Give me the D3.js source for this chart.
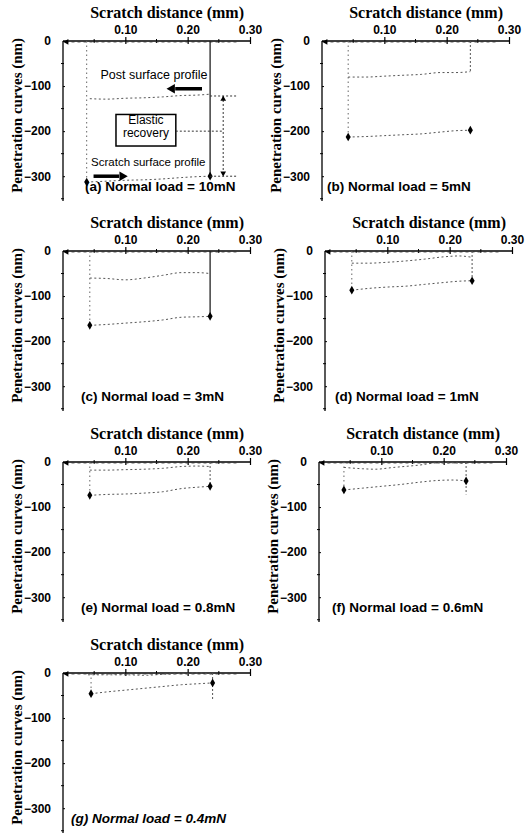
<!DOCTYPE html>
<html>
<head>
<meta charset="utf-8">
<script src="https://cdn.jsdelivr.net/npm/d3@7"></script>
<style>
  body { margin: 0; background: #fff; }
  svg { display: block; }
</style>
</head>
<body>
<div id="chart_area"></div>
<script>
// panel captions
var panelLetters = ["a", "b", "c", "d", "e", "f", "g"];
var normalLoads = ["10mN", "5mN", "3mN", "1mN", "0.8mN", "0.6mN", "0.4mN"];

// tick values
var xTicks = [0.10, 0.20, 0.30];
var xMinorTicks = [0.05, 0.15, 0.25];
var yTicks = [0, -100, -200, -300];
var yMinorTicks = [-50, -150, -250, -350];

// post surface profile (distance mm, depth nm) per panel
var postProfiles = [
    [[0.043, -128], [0.07, -129], [0.10, -127], [0.13, -126], [0.16, -124], [0.19, -121], [0.215, -120], [0.236, -118]],
    [[0.042, -80], [0.07, -80], [0.10, -78], [0.13, -76], [0.16, -74], [0.19, -70], [0.215, -70], [0.238, -68]],
    [[0.043, -60], [0.07, -61], [0.10, -64], [0.13, -60], [0.16, -54], [0.19, -48], [0.215, -48], [0.236, -50]],
    [[0.043, -27], [0.07, -27], [0.10, -25], [0.13, -22], [0.16, -18], [0.19, -13], [0.215, -11], [0.236, -14]],
    [[0.043, -18], [0.07, -18], [0.10, -17], [0.13, -16], [0.16, -14], [0.19, -10], [0.215, -9], [0.236, -10]],
    [[0.040, -12], [0.07, -15], [0.09, -16], [0.12, -12], [0.16, -7], [0.19, -2], [0.215, -2], [0.236, -3]],
    [[0.040, -4], [0.07, -4], [0.10, -4], [0.13, -5], [0.16, -3], [0.19, -1], [0.215, 0], [0.24, -2]]
];

// scratch surface profile per panel
var scratchProfiles = [
    [[0.038, -313], [0.07, -311], [0.10, -309], [0.13, -308], [0.16, -306], [0.19, -303], [0.215, -301], [0.236, -300]],
    [[0.042, -213], [0.07, -212], [0.10, -210], [0.13, -208], [0.16, -206], [0.19, -202], [0.215, -199], [0.238, -198]],
    [[0.043, -165], [0.07, -163], [0.10, -160], [0.13, -157], [0.16, -153], [0.19, -147], [0.215, -146], [0.236, -145]],
    [[0.043, -87], [0.07, -83], [0.10, -80], [0.13, -78], [0.16, -74], [0.19, -70], [0.215, -67], [0.236, -66]],
    [[0.043, -74], [0.07, -72], [0.10, -71], [0.13, -69], [0.16, -66], [0.19, -59], [0.215, -56], [0.236, -54]],
    [[0.040, -62], [0.07, -58], [0.10, -54], [0.13, -50], [0.16, -45], [0.19, -41], [0.215, -40], [0.236, -42]],
    [[0.045, -46], [0.07, -42], [0.10, -38], [0.13, -34], [0.16, -30], [0.19, -26], [0.215, -24], [0.24, -22]]
];

// depth reached by the unloading line at the end of the scratch
var endDrops = [-300, -68, -145, -66, -56, -72, -60];

var width = 532, height = 838;
var colX = [63, 322];
var rowY = [41, 251, 462, 673];
var captionDx = [22, 5, 18, 10, 18, 13, 8];

var x = d3.scaleLinear().domain([0, 0.30]).range([0, 187]);
var y = d3.scaleLinear().domain([0, -355]).range([0, 160]);

var svg = d3.select("#chart_area")
    .append("svg")
    .attr("width", width)
    .attr("height", height);

svg.append("rect")
    .attr("width", width)
    .attr("height", height)
    .attr("fill", "#fff");

var line = d3.line()
    .x(function (d) { return x(d[0]); })
    .y(function (d) { return y(d[1]); })
    .curve(d3.curveMonotoneX);

panelLetters.forEach(function (letter, i) {
    var ox = colX[i % 2] + (i === 3 ? 3 : 0) - (i === 5 ? 3 : 0);
    var oy = rowY[Math.floor(i / 2)];
    var g = svg.append("g").attr("transform", "translate(" + ox + "," + oy + ")");

    // x axis on top
    var xAxis = g.append("g")
        .call(d3.axisTop(x).tickValues(xTicks).tickSize(4).tickPadding(3)
            .tickFormat(d3.format(".2f")));
    xAxis.select(".domain").attr("stroke-width", 1.3).attr("d", "M0,0H" + x(0.30));
    xAxis.selectAll(".tick line").attr("y2", -4).attr("y1", 3).attr("stroke-width", 1.2);
    xAxis.selectAll("text")
        .attr("font-family", "Liberation Sans, Arial, sans-serif")
        .attr("font-weight", "bold")
        .attr("font-size", 12)
        .attr("fill", "#000");

    g.selectAll(".xminor")
        .data(xMinorTicks)
        .enter()
        .append("line")
        .attr("x1", function (d) { return x(d); })
        .attr("x2", function (d) { return x(d); })
        .attr("y1", -2)
        .attr("y2", 2)
        .attr("stroke", "#000");

    // y axis
    var yAxis = g.append("g")
        .call(d3.axisLeft(y).tickValues(yTicks).tickSize(3).tickPadding(9)
            .tickFormat(d3.format("d")));
    yAxis.select(".domain").attr("stroke-width", 1.3).attr("d", "M0,0V" + y(-355));
    yAxis.selectAll(".tick line").attr("x2", 2);
    yAxis.selectAll("text")
        .attr("font-family", "Liberation Sans, Arial, sans-serif")
        .attr("font-weight", "bold")
        .attr("font-size", 12)
        .attr("fill", "#000");

    g.selectAll(".yminor")
        .data(yMinorTicks)
        .enter()
        .append("line")
        .attr("x1", -2)
        .attr("x2", 1)
        .attr("y1", function (d) { return y(d); })
        .attr("y2", function (d) { return y(d); })
        .attr("stroke", "#000");

    // axis titles
    g.append("text")
        .attr("x", x(0.167))
        .attr("y", -23)
        .attr("text-anchor", "middle")
        .attr("font-family", "Liberation Serif, Times New Roman, serif")
        .attr("font-weight", "bold")
        .attr("font-size", 16)
        .text("Scratch distance (mm)");

    g.append("text")
        .attr("transform", "translate(-41," + y(-165) + ") rotate(-90)")
        .attr("text-anchor", "middle")
        .attr("font-family", "Liberation Serif, Times New Roman, serif")
        .attr("font-weight", "bold")
        .attr("font-size", 15)
        .text("Penetration curves (nm)");

    // panel caption
    g.append("text")
        .attr("x", captionDx[i])
        .attr("y", y(-333))
        .attr("font-family", "Liberation Sans, Arial, sans-serif")
        .attr("font-weight", "bold")
        .attr("font-style", letter === "g" ? "italic" : "normal")
        .attr("font-size", 13.5)
        .text("(" + letter + ") Normal load = " + normalLoads[i]);

    var post = postProfiles[i];
    var scr = scratchProfiles[i];
    var startX = scr[0][0];
    var endX = scr[scr.length - 1][0];

    // pre-scan along the surface
    g.append("line")
        .attr("x1", x(0.004)).attr("x2", x(0.28))
        .attr("y1", y(-2)).attr("y2", y(-2))
        .attr("stroke", "#333")
        .attr("stroke-dasharray", "3,3");
    g.append("path")
        .attr("d", d3.symbol().type(d3.symbolTriangle).size(14))
        .attr("transform", "translate(" + x(0.006) + "," + y(-2) + ") rotate(-90)")
        .attr("fill", "#000");

    // loading / unloading verticals
    g.append("line")
        .attr("x1", x(startX)).attr("x2", x(startX))
        .attr("y1", y(0)).attr("y2", y(scr[0][1]))
        .attr("stroke", "#666")
        .attr("stroke-dasharray", "1.5,3");
    g.append("line")
        .attr("x1", x(endX)).attr("x2", x(endX))
        .attr("y1", y(0)).attr("y2", y(endDrops[i]))
        .attr("stroke", i === 0 || i === 2 ? "#222" : "#555")
        .attr("stroke-width", i === 0 || i === 2 ? 1.3 : 1)
        .attr("stroke-dasharray", i === 0 || i === 2 ? null : "2,2");

    // profiles
    g.append("path")
        .attr("d", line(post))
        .attr("fill", "none")
        .attr("stroke", "#555")
        .attr("stroke-dasharray", "2,2.5");
    g.append("path")
        .attr("d", line(scr))
        .attr("fill", "none")
        .attr("stroke", "#555")
        .attr("stroke-dasharray", "2,2.5");

    // end markers on scratch profile
    g.selectAll(".endmark")
        .data([scr[0], scr[scr.length - 1]])
        .enter()
        .append("path")
        .attr("d", d3.symbol().type(d3.symbolDiamond).size(22))
        .attr("transform", function (d) { return "translate(" + x(d[0]) + "," + y(d[1]) + ")"; })
        .attr("fill", "#000");

    if (i === 0) {
        var ann = g.append("g");
        var topY = post[post.length - 1][1];
        var botY = scr[scr.length - 1][1];
        // recovery guide lines
        [topY - 4, botY].forEach(function (v) {
            ann.append("line")
                .attr("x1", x(endX)).attr("x2", x(0.28))
                .attr("y1", y(v)).attr("y2", y(v))
                .attr("stroke", "#333")
                .attr("stroke-dasharray", "2,2");
        });
        ann.append("line")
            .attr("x1", x(0.257)).attr("x2", x(0.257))
            .attr("y1", y(topY - 4)).attr("y2", y(botY))
            .attr("stroke", "#333")
            .attr("stroke-dasharray", "2,2");
        ann.append("path")
            .attr("d", d3.symbol().type(d3.symbolTriangle).size(14))
            .attr("transform", "translate(" + x(0.257) + "," + (y(topY - 4) + 3) + ")")
            .attr("fill", "#000");
        ann.append("path")
            .attr("d", d3.symbol().type(d3.symbolTriangle).size(14))
            .attr("transform", "translate(" + x(0.257) + "," + (y(botY) - 3) + ") rotate(180)")
            .attr("fill", "#000");

        // elastic recovery box
        ann.append("rect")
            .attr("x", x(0.085)).attr("y", y(-163))
            .attr("width", x(0.181) - x(0.085)).attr("height", y(-233) - y(-163))
            .attr("fill", "#fff")
            .attr("stroke", "#000")
            .attr("stroke-width", 1.5);
        ann.append("line")
            .attr("x1", x(0.181)).attr("x2", x(0.257))
            .attr("y1", y(-200)).attr("y2", y(-200))
            .attr("stroke", "#333")
            .attr("stroke-dasharray", "2,2");
        ann.append("text")
            .attr("x", x(0.133)).attr("y", y(-185))
            .attr("text-anchor", "middle")
            .attr("font-family", "Liberation Sans, Arial, sans-serif")
            .attr("font-size", 12)
            .text("Elastic");
        ann.append("text")
            .attr("x", x(0.133)).attr("y", y(-213))
            .attr("text-anchor", "middle")
            .attr("font-family", "Liberation Sans, Arial, sans-serif")
            .attr("font-size", 12)
            .text("recovery");

        // profile labels with arrows
        ann.append("text")
            .attr("x", x(0.146)).attr("y", y(-85))
            .attr("text-anchor", "middle")
            .attr("font-family", "Liberation Sans, Arial, sans-serif")
            .attr("font-size", 12.5)
            .text("Post surface profile");
        ann.append("line")
            .attr("x1", x(0.223)).attr("x2", x(0.18))
            .attr("y1", y(-106)).attr("y2", y(-106))
            .attr("stroke", "#000").attr("stroke-width", 3.5);
        ann.append("path")
            .attr("d", d3.symbol().type(d3.symbolTriangle).size(40))
            .attr("transform", "translate(" + x(0.175) + "," + y(-106) + ") rotate(-90)")
            .attr("fill", "#000");

        ann.append("text")
            .attr("x", x(0.045)).attr("y", y(-277))
            .attr("font-family", "Liberation Sans, Arial, sans-serif")
            .attr("font-size", 11.5)
            .text("Scratch surface profile");
        ann.append("line")
            .attr("x1", x(0.049)).attr("x2", x(0.09))
            .attr("y1", y(-300)).attr("y2", y(-300))
            .attr("stroke", "#000").attr("stroke-width", 3.5);
        ann.append("path")
            .attr("d", d3.symbol().type(d3.symbolTriangle).size(40))
            .attr("transform", "translate(" + x(0.095) + "," + y(-300) + ") rotate(90)")
            .attr("fill", "#000");
    }
});
</script>
</body>
</html>
